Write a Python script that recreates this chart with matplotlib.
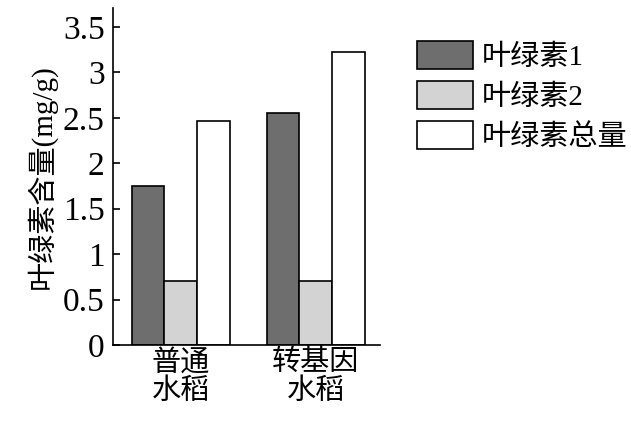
import matplotlib.pyplot as plt
import numpy as np
from matplotlib.patches import Patch

plt.rcParams['font.family'] = ['Liberation Serif', 'Noto Sans CJK SC']

groups = ["普通\n水稻", "转基因\n水稻"]
series = ["叶绿素1", "叶绿素2", "叶绿素总量"]
values = [[1.75, 2.55], [0.7, 0.7], [2.47, 3.22]]
colors = ["#6e6e6e", "#d3d3d3", "#ffffff"]
yticks = [0, 0.5, 1, 1.5, 2, 2.5, 3, 3.5]
ytick_labels = ["0", "0.5", "1", "1.5", "2", "2.5", "3", "3.5"]

fig = plt.figure(figsize=(6.31, 4.26), dpi=100)
ax = fig.add_axes([0.179, 0.19, 0.423, 0.791])
x = np.arange(len(groups))
w = 0.244
for i, (vals, c) in enumerate(zip(values, colors)):
    ax.bar(x + (i - 1) * w, vals, width=w, color=c, edgecolor="black", linewidth=1.2)

ax.set_xlim(-0.504, 1.474)
ax.set_ylim(0, 3.707)
ax.set_yticks(yticks)
ax.set_yticklabels(ytick_labels, fontsize=24)
ax.set_xticks(x)
ax.set_xticklabels(groups, fontsize=21, family=['Noto Sans CJK SC'], linespacing=0.9)
ax.tick_params(axis='x', length=0, pad=2)
ax.tick_params(axis='y', direction='in', length=5, width=1.2, pad=6)
for s in ["top", "right"]:
    ax.spines[s].set_visible(False)
for s in ["left", "bottom"]:
    ax.spines[s].set_linewidth(1.2)
ax.set_ylabel("叶绿素含量(mg/g)", fontsize=21, family=['Liberation Serif', 'Noto Sans CJK SC'], labelpad=4)

handles = [Patch(facecolor=c, edgecolor="black", linewidth=1.2) for c in colors]
fig.legend(handles, series, loc="upper left", bbox_to_anchor=(0.62, 0.965), frameon=False,
           prop={'family': ['Liberation Serif', 'Noto Sans CJK SC'], 'size': 21}, handlelength=1.9,
           handleheight=1.1, handletextpad=0.3, labelspacing=0.35)

fig.savefig("out.png", dpi=100)
